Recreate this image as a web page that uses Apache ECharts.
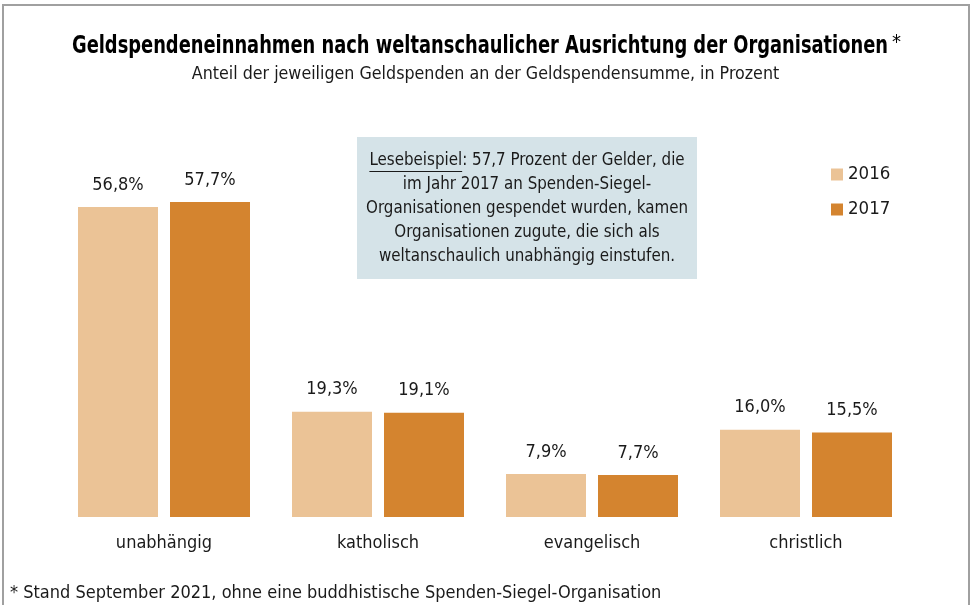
<!DOCTYPE html>
<html>
<head>
<meta charset="utf-8">
<script src="https://cdn.jsdelivr.net/npm/echarts@6/dist/echarts.min.js"></script>
<style>
html,body{margin:0;padding:0;background:#fff;}
#chart{width:971px;height:605px;}
</style>
</head>
<body>
<div id="chart"></div>
<script>
const categories = ['unabhängig', 'katholisch', 'evangelisch', 'christlich'];
const values2016 = [56.8, 19.3, 7.9, 16.0];
const values2017 = [57.7, 19.1, 7.7, 15.5];
const seriesNames = ['2016', '2017'];
const titleText = 'Geldspendeneinnahmen nach weltanschaulicher Ausrichtung der Organisationen';
const titleMark = '*';
const subtitleText = 'Anteil der jeweiligen Geldspenden an der Geldspendensumme, in Prozent';
const noteLines = [
  'im Jahr 2017 an Spenden-Siegel-',
  'Organisationen gespendet wurden, kamen',
  'Organisationen zugute, die sich als',
  'weltanschaulich unabhängig einstufen.'
];
const noteFirstKey = 'Lesebeispiel';
const noteFirstRest = ': 57,7 Prozent der Gelder, die';
const footnote = '* Stand September 2021, ohne eine buddhistische Spenden-Siegel-Organisation';

const FONT = '"DejaVu Sans Condensed", "DejaVu Sans", sans-serif';
const chart = echarts.init(document.getElementById('chart'), null, {renderer: 'canvas'});
const fmt = v => v.toFixed(1).replace('.', ',') + '%';

const mctx = document.createElement('canvas').getContext('2d');
function measure(text, size, weight) {
  mctx.font = (weight || 'normal') + ' ' + size + 'px ' + FONT;
  return mctx.measureText(text).width;
}

// title: fit bold text into the reference's span (72..888)
const titleSize = 24;
const titleW = measure(titleText, titleSize, 'bold');
const titleScale = 816 / titleW;

const noteCx = 527;
const noteSize = 16.8;
const noteTexts = [{
  type: 'text', x: noteCx, y: 161, z: 2,
  style: {
    text: noteFirstKey + noteFirstRest,
    fontFamily: FONT, fontSize: noteSize, fill: '#1a1a1a',
    align: 'center', verticalAlign: 'middle'
  }
}];
noteLines.forEach((t, i) => {
  noteTexts.push({
    type: 'text', x: noteCx, y: 185 + i * 24, z: 2,
    style: {text: t, fontFamily: FONT, fontSize: noteSize, fill: '#1a1a1a', align: 'center', verticalAlign: 'middle'}
  });
});
const wKey = measure(noteFirstKey, noteSize);
const wAll = measure(noteFirstKey + noteFirstRest, noteSize);
const ulX = noteCx - wAll / 2;

chart.setOption({
  animation: false,
  backgroundColor: '#ffffff',
  color: ['#EBC396', '#D4842F'],
  title: [{
    text: subtitleText,
    left: 'center', top: 60,
    textStyle: {fontFamily: FONT, fontSize: 17.7, fontWeight: 'normal', color: '#1a1a1a'}
  }],
  legend: {
    orient: 'vertical', left: 831, top: 165, padding: 0,
    itemWidth: 12, itemHeight: 12, itemGap: 16,
    icon: 'rect',
    textStyle: {fontFamily: FONT, fontSize: 18.5, color: '#1a1a1a'},
    data: seriesNames
  },
  grid: {left: 57, right: 58, top: 189.5, bottom: 88, containLabel: false},
  xAxis: {
    type: 'category', data: categories,
    axisLine: {show: false}, axisTick: {show: false},
    axisLabel: {fontFamily: FONT, fontSize: 18, color: '#1a1a1a', margin: 17}
  },
  yAxis: {
    type: 'value', min: 0, max: 60, show: false,
    splitLine: {show: false}
  },
  series: [{
    name: seriesNames[0], type: 'bar', data: values2016,
    barWidth: 80, barGap: '15%',
    label: {show: true, position: 'top', distance: 13, formatter: p => fmt(p.value),
      fontFamily: FONT, fontSize: 18, color: '#1a1a1a'}
  }, {
    name: seriesNames[1], type: 'bar', data: values2017,
    barWidth: 80,
    label: {show: true, position: 'top', distance: 13, formatter: p => fmt(p.value),
      fontFamily: FONT, fontSize: 18, color: '#1a1a1a'}
  }],
  graphic: [{
    type: 'rect', shape: {x: 3, y: 5, width: 966, height: 640},
    style: {fill: 'none', stroke: '#a0a0a0', lineWidth: 2}, silent: true, z: 0
  }, {
    type: 'text', x: 72, y: 47, scaleX: titleScale, originX: 0,
    style: {text: titleText, fontFamily: FONT, fontSize: titleSize, fontWeight: 'bold', fill: '#000',
      align: 'left', verticalAlign: 'middle'}
  }, {
    type: 'text', x: 892, y: 43,
    style: {text: titleMark, fontFamily: FONT, fontSize: 20, fill: '#000', align: 'left', verticalAlign: 'middle'}
  }, {
    type: 'rect', shape: {x: 357, y: 137, width: 340, height: 142},
    style: {fill: '#D5E3E8'}, z: 1
  }, {
    type: 'line', shape: {x1: ulX, y1: 171.5, x2: ulX + wKey, y2: 171.5},
    style: {stroke: '#1a1a1a', lineWidth: 1}, z: 2
  }].concat(noteTexts).concat([{
    type: 'text', left: 10, top: 584,
    style: {text: footnote, fontFamily: FONT, fontSize: 18, fill: '#1a1a1a'}
  }])
});
</script>
</body>
</html>
